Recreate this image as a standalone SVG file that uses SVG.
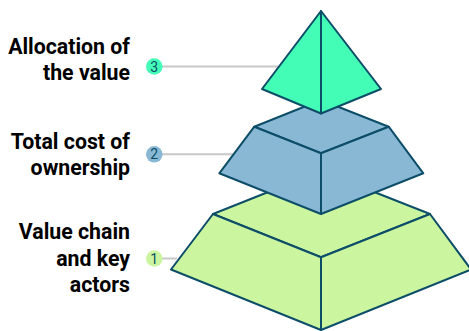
<svg xmlns="http://www.w3.org/2000/svg" width="469" height="331" viewBox="0 0 469 331">
  <style>
    .face { stroke: #0c4d68; stroke-width: 2; stroke-linejoin: round; }
    .l1 { fill: #cbf59f; }
    .l2 { fill: #89b8d5; }
    .l3 { fill: #43fdb7; }
    .leader { stroke: #c8c8c8; stroke-width: 2; fill: none; }
    .label { font-family: Roboto, "Liberation Sans", sans-serif; font-weight: 700; font-size: 21.3px; fill: #000; text-anchor: end; }
    .num { font-family: Roboto, "Liberation Sans", sans-serif; font-size: 14px; fill: #0c4d68; text-anchor: middle; }
  </style>
  <rect width="469" height="331" fill="#ffffff"/>

  <!-- leader lines from the numbered badges to the layers -->
  <g id="connectors">
    <line class="leader" x1="160" y1="66.5" x2="278" y2="66.5"/>
    <line class="leader" x1="160" y1="154.3" x2="241" y2="154.3"/>
    <line class="leader" x1="160" y1="258.5" x2="177" y2="258.5"/>
  </g>

  <!-- layer 1: base frustum -->
  <g id="layer1">
    <polygon class="face l1" points="321,171 213,214 321,257.3 430,214"/>
    <polygon class="face l1" points="213,214 171,269.5 321,330 321,257.3"/>
    <polygon class="face l1" points="321,257.3 321,330 471,269.5 430,214"/>
  </g>

  <!-- layer 2: middle frustum -->
  <g id="layer2">
    <polygon class="face l2" points="321,100 254.3,126.7 321,153.3 388.7,126.7"/>
    <polygon class="face l2" points="254.3,126.7 219.3,173.3 321,214 321,153.3"/>
    <polygon class="face l2" points="321,153.3 321,214 423.3,173.3 388.7,126.7"/>
  </g>

  <!-- layer 3: apex -->
  <g id="layer3">
    <polygon class="face l3" points="321,11 262,89 321,113.5"/>
    <polygon class="face l3" points="321,11 321,113.5 381,89"/>
  </g>

  <!-- badges and labels -->
  <g id="item3">
    <circle cx="154.3" cy="66.5" r="8.3" class="l3"/>
    <text class="num" x="154.3" y="71.5">3</text>
    <text class="label" x="130" y="54">Allocation of</text>
    <text class="label" x="130" y="80">the value</text>
  </g>
  <g id="item2">
    <circle cx="154.3" cy="154.3" r="8.3" class="l2"/>
    <text class="num" x="154.3" y="159.3">2</text>
    <text class="label" x="130" y="149.3">Total cost of</text>
    <text class="label" x="130" y="175">ownership</text>
  </g>
  <g id="item1">
    <circle cx="154.3" cy="258.5" r="8.3" class="l1"/>
    <text class="num" x="154.3" y="263.5">1</text>
    <text class="label" x="130" y="239.3">Value chain</text>
    <text class="label" x="130" y="265.5">and key</text>
    <text class="label" x="130" y="291.7">actors</text>
  </g>
</svg>
